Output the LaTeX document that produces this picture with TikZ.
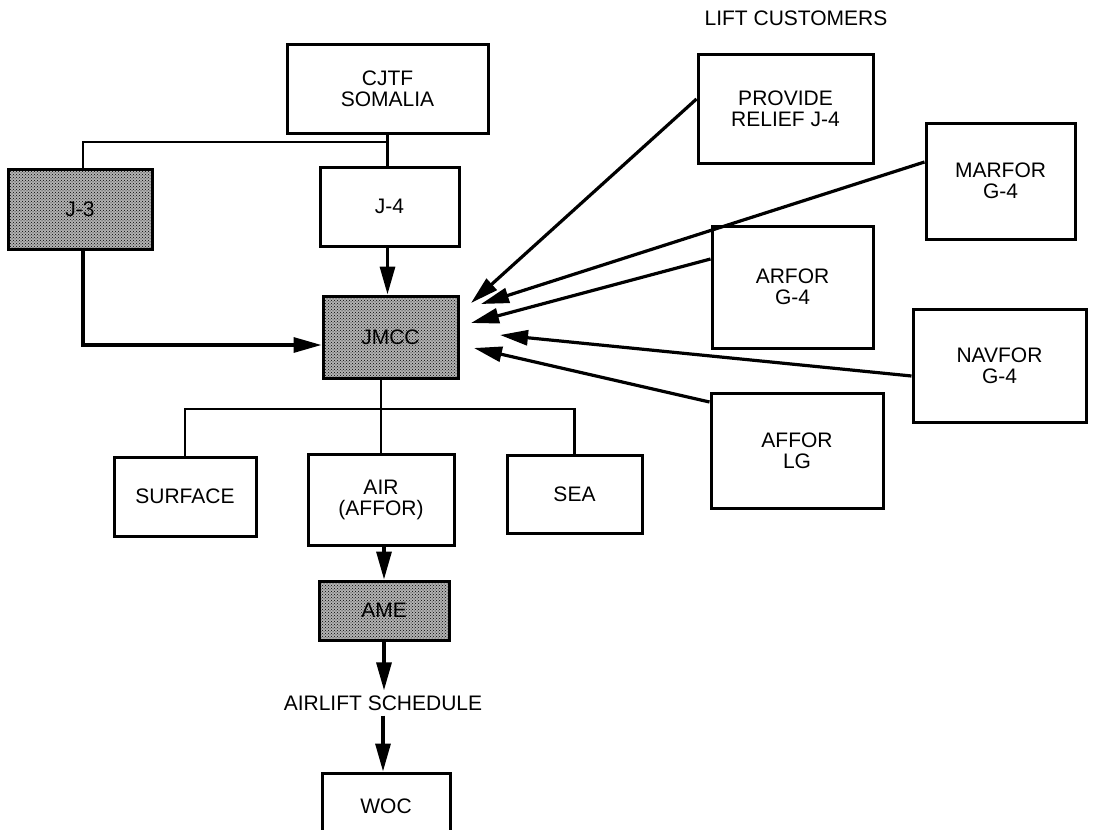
\documentclass[tikz,border=0pt]{standalone}
\usepackage{fontspec}
\setmainfont{Liberation Sans}
\usetikzlibrary{arrows.meta,patterns,calc}
\begin{document}
\begin{tikzpicture}[x=1pt,y=-1pt,
  box/.style={draw,line width=3pt,fill=white,inner sep=0pt,align=center,font=\fontsize{21}{21}\selectfont},
  dotbox/.style={draw,line width=3pt,preaction={fill=black!30},pattern=crosshatch dots,inner sep=0pt,align=center,font=\fontsize{21}{21}\selectfont},
  tree/.style={line width=2.2pt},
  arr/.style={line width=3.2pt,-{Triangle[length=28pt,width=15pt]}},
  lbl/.style={inner sep=5pt,font=\fontsize{21}{21}\selectfont}
]
\useasboundingbox (0,0) rectangle (1093,830);
\clip (0,0) rectangle (1093,830);

% nodes
\node[lbl] (lift) at (796,18) {LIFT CUSTOMERS};
\node[box,minimum width=201pt,minimum height=89pt] (cjtf) at (387.5,88.5) {CJTF\\SOMALIA};
\node[box,minimum width=175pt,minimum height=109pt] (provide) at (785.5,108.5) {PROVIDE\\RELIEF J-4};
\node[box,minimum width=149pt,minimum height=116pt] (marfor) at (1000.5,181) {MARFOR\\G-4};
\node[dotbox,minimum width=144pt,minimum height=80pt] (j3) at (80,209) {J-3};
\node[box,minimum width=139pt,minimum height=79pt] (j4) at (389.5,206.5) {J-4};
\node[box,minimum width=161pt,minimum height=122pt] (arfor) at (792.5,287) {ARFOR\\G-4};
\node[dotbox,minimum width=135pt,minimum height=82pt] (jmcc) at (390.5,337) {JMCC};
\node[box,minimum width=173pt,minimum height=113pt] (navfor) at (999.5,365.5) {NAVFOR\\G-4};
\node[box,minimum width=172pt,minimum height=115pt] (affor) at (797,450.5) {AFFOR\\LG};
\node[box,minimum width=142pt,minimum height=79pt] (surface) at (185,496.5) {SURFACE};
\node[box,minimum width=146pt,minimum height=91pt] (air) at (381,499.5) {AIR\\(AFFOR)};
\node[box,minimum width=135pt,minimum height=78pt] (sea) at (574.5,494) {SEA};
\node[dotbox,minimum width=130pt,minimum height=59pt] (ame) at (384,610.5) {AME};
\node[lbl] (sched) at (383,703) {AIRLIFT SCHEDULE};
\node[box,minimum width=128pt,minimum height=66pt] (woc) at (386,806) {WOC};

% tree from CJTF
\coordinate (jn) at (83,142);
\draw[tree] (cjtf.south) -- (cjtf.south |- j4.north);
\draw[tree] (cjtf.south |- jn) -- (jn) -- (jn |- j3.north);
\draw[arr] (jn |- j3.south) |- ($(jmcc.west)+(0,8)$);
\draw[arr] (cjtf.south |- j4.south) -- (cjtf.south |- jmcc.north);

% tree below JMCC
\coordinate (hb) at (0,409);
\draw[tree] (air.north |- jmcc.south) -- (air.north);
\draw[tree] (surface.north) -- (surface.north |- hb) -- (sea.north |- hb) -- (sea.north);

% airlift chain
\draw[arr] (ame.north |- air.south) -- (ame.north);
\draw[arr] (ame.south) -- (ame.south |- sched.north);
\draw[arr] (sched.south) -- (sched.south |- woc.north);

% lift customer arrows
\coordinate (tp) at (471,303);
\coordinate (tm) at (481,304);
\coordinate (ta) at (471,323);
\coordinate (tn) at (500,335);
\coordinate (tf) at (474,348);
\draw[arr] ($(provide.west)+(0,-9.5)$) -- (tp);
\draw[arr] ($(marfor.west)+(0,-19)$) -- (tm);
\draw[arr] ($(arfor.west)+(0,-28)$) -- (ta);
\draw[arr] ($(navfor.west)+(0,10.5)$) -- (tn);
\draw[arr] ($(affor.west)+(0,-48.5)$) -- (tf);
\end{tikzpicture}
\end{document}
